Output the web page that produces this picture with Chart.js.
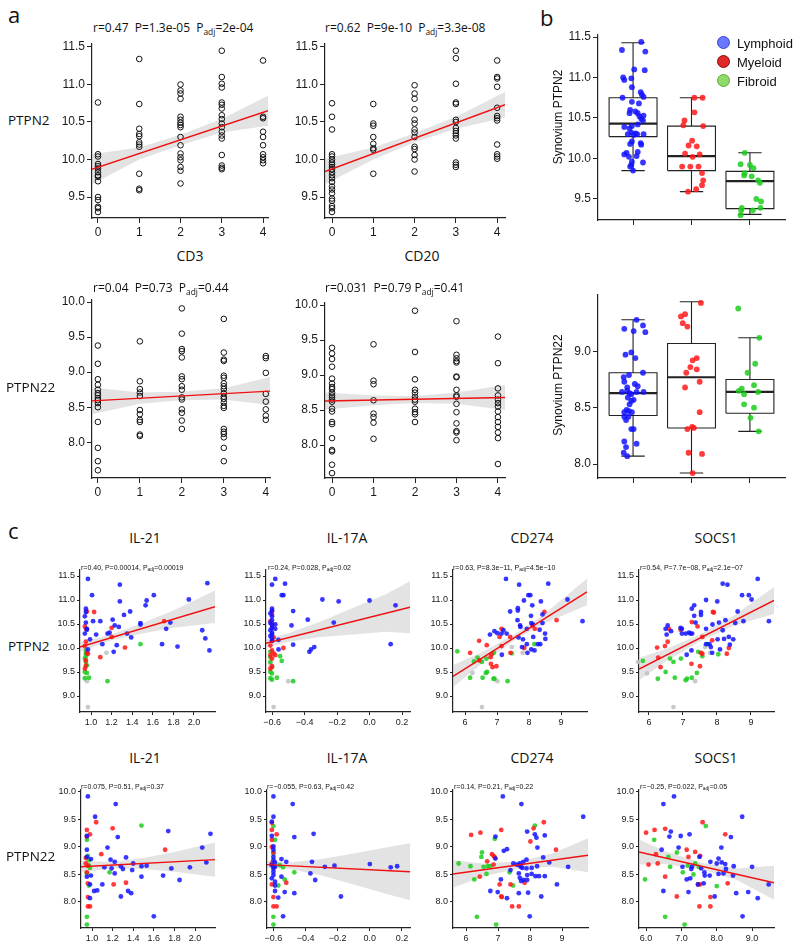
<!DOCTYPE html>
<html>
<head>
<meta charset="utf-8">
<script src="https://cdn.jsdelivr.net/npm/chart.js@4.4.0/dist/chart.umd.min.js"></script>
<style>
  body { margin: 0; background: #fff; }
  #figure { position: relative; width: 800px; height: 948px; overflow: hidden; color: #111; }
  .t { position: absolute; white-space: nowrap; line-height: 1; }
  .t sub { font-size: 0.7em; vertical-align: -0.35em; line-height: 0; }
  .dot { position: absolute; width: 13px; height: 13px; border-radius: 50%; box-sizing: border-box; border: 1.5px solid; }
</style>
</head>
<body>
<div id="figure"></div>
<script>
const FONT = '"Liberation Sans", Arial, sans-serif';
const TITLE_FONT = '"Open Sans", "Liberation Sans", sans-serif';

// panel a: PTPN2 / PTPN22 values at each CD3 / CD20 score (0..4)
const ptpn2ByCd3 = [
  [10.76, 10.07, 10.04, 9.94, 9.91, 9.88, 9.83, 9.79, 9.77, 9.71, 9.50, 9.46, 9.37, 9.35, 9.30],
  [11.34, 10.74, 10.41, 10.34, 10.31, 10.23, 10.20, 10.17, 9.81, 9.61, 9.59],
  [11.0, 10.92, 10.88, 10.81, 10.57, 10.53, 10.49, 10.46, 10.43, 10.30, 10.19, 10.08, 10.03, 9.99, 9.90, 9.85, 9.68],
  [11.45, 11.10, 11.01, 10.96, 10.76, 10.73, 10.68, 10.59, 10.54, 10.48, 10.43, 10.37, 10.32, 10.28, 10.06, 9.92, 9.89, 9.87],
  [11.32, 10.57, 10.55, 10.37, 10.30, 10.19, 10.07, 10.03, 9.99, 9.95]
];
const ptpn2ByCd20 = [
  [10.75, 10.57, 10.40, 10.07, 10.04, 10.0, 9.96, 9.93, 9.90, 9.87, 9.83, 9.79, 9.75, 9.70, 9.64, 9.60, 9.55, 9.48, 9.45, 9.38, 9.35, 9.30],
  [10.74, 10.48, 10.45, 10.30, 10.21, 10.15, 10.13, 9.81],
  [10.99, 10.88, 10.81, 10.67, 10.53, 10.48, 10.40, 10.36, 10.30, 10.17, 10.14, 10.06, 10.0, 9.84],
  [11.45, 11.35, 11.01, 10.76, 10.74, 10.53, 10.50, 10.42, 10.38, 10.35, 10.32, 10.28, 9.96, 9.93, 9.90],
  [11.32, 11.10, 11.08, 10.97, 10.69, 10.58, 10.55, 10.52, 10.20, 10.07, 10.04, 10.01]
];
const ptpn22ByCd3 = [
  [9.38, 9.12, 8.90, 8.82, 8.75, 8.70, 8.67, 8.63, 8.60, 8.56, 8.50, 8.29, 7.92, 7.73, 7.60],
  [9.44, 8.87, 8.76, 8.71, 8.66, 8.46, 8.40, 8.32, 8.29, 8.11, 8.09],
  [9.91, 9.55, 9.33, 9.30, 9.21, 8.94, 8.90, 8.80, 8.75, 8.64, 8.61, 8.47, 8.42, 8.31, 8.19],
  [9.76, 9.28, 9.18, 9.16, 8.95, 8.92, 8.84, 8.80, 8.76, 8.70, 8.65, 8.62, 8.57, 8.52, 8.49, 8.19, 8.15, 8.12, 8.07, 7.92, 7.73],
  [9.23, 9.20, 8.99, 8.69, 8.58, 8.47, 8.38, 8.32]
];
const ptpn22ByCd20 = [
  [9.39, 9.31, 9.23, 9.12, 8.95, 8.88, 8.83, 8.80, 8.75, 8.71, 8.68, 8.65, 8.62, 8.52, 8.48, 8.33, 8.30, 8.10, 7.93, 7.91, 7.72, 7.60],
  [9.44, 8.92, 8.87, 8.64, 8.45, 8.40, 8.32, 8.09],
  [9.92, 9.33, 8.94, 8.79, 8.75, 8.69, 8.65, 8.62, 8.52, 8.47, 8.44, 8.33],
  [9.77, 9.29, 9.24, 9.20, 9.18, 8.98, 8.97, 8.79, 8.71, 8.69, 8.59, 8.47, 8.31, 8.20, 8.18, 8.07],
  [9.55, 9.17, 8.81, 8.71, 8.65, 8.60, 8.55, 8.48, 8.40, 8.33, 8.26, 8.18, 8.10, 7.73]
];

// fitted line ends and confidence band rows [x, low, high]
const cd3Ptpn2Line = [[-0.15, 9.87], [4.12, 10.65]];
const cd3Ptpn2Band = [[-0.15, 9.67, 10.07], [1, 10.0, 10.16], [2, 10.19, 10.33], [3, 10.36, 10.54], [4.12, 10.45, 10.85]];
const cd20Ptpn2Line = [[-0.17, 9.84], [4.19, 10.73]];
const cd20Ptpn2Band = [[-0.17, 9.67, 10.01], [1, 10.0, 10.16], [2, 10.23, 10.35], [3, 10.41, 10.57], [4.19, 10.56, 10.90]];
const cd3Ptpn22Line = [[-0.14, 8.59], [4.1, 8.73]];
const cd3Ptpn22Band = [[-0.14, 8.40, 8.78], [1, 8.55, 8.71], [2, 8.60, 8.72], [3, 8.61, 8.77], [4.1, 8.53, 8.93]];
const cd20Ptpn22Line = [[-0.17, 8.63], [4.17, 8.68]];
const cd20Ptpn22Band = [[-0.17, 8.51, 8.75], [1, 8.57, 8.71], [2, 8.60, 8.70], [3, 8.59, 8.75], [4.17, 8.50, 8.86]];

// panel b: box stats per group [low, q1, median, q3, high] and jittered points
const groups = ['Lymphoid', 'Myeloid', 'Fibroid'];
const ptpn2Stats = [[9.85, 10.27, 10.43, 10.75, 11.43], [9.59, 9.85, 10.03, 10.40, 10.75], [9.31, 9.38, 9.72, 9.84, 10.07]];
const ptpn22Stats = [[8.07, 8.43, 8.63, 8.81, 9.28], [7.92, 8.32, 8.77, 9.07, 9.44], [8.29, 8.45, 8.64, 8.75, 9.12]];
const ptpn2Lymphoid = [[1.14,11.44],[0.81,11.34],[1.21,11.32],[1.02,11.10],[1.20,11.09],[0.83,11.0],[0.85,10.97],[0.97,10.99],[0.98,10.88],[1.13,10.82],[1.15,10.79],[1.18,10.76],[0.82,10.75],[0.98,10.70],[1.10,10.68],[0.95,10.60],[1.04,10.58],[1.18,10.53],[0.94,10.56],[1.08,10.56],[1.11,10.52],[1.14,10.49],[1.17,10.47],[0.85,10.39],[0.98,10.40],[1.08,10.42],[0.94,10.37],[1.04,10.31],[0.97,10.32],[0.91,10.30],[1.01,10.29],[1.07,10.30],[1.18,10.30],[0.98,10.21],[1.13,10.19],[0.95,10.18],[1.14,10.17],[0.89,10.07],[0.85,10.05],[1.08,10.08],[0.93,10.02],[1.06,10.03],[0.98,9.96],[1.17,9.95],[0.97,9.92],[0.95,9.90],[1.0,9.85]];
const ptpn2Myeloid = [[2.05,10.75],[2.19,10.75],[1.88,10.47],[1.86,10.41],[2.05,10.57],[2.20,10.40],[2.01,10.22],[1.95,10.16],[2.09,10.15],[1.89,10.06],[2.02,10.02],[2.14,10.05],[1.84,9.90],[1.98,9.90],[2.12,9.90],[2.18,9.82],[2.20,9.73],[2.18,9.67],[2.08,9.62],[1.94,9.59]];
const ptpn2Fibroid = [[2.91,10.07],[2.84,9.93],[3.0,9.92],[3.06,9.88],[2.91,9.82],[3.03,9.78],[2.90,9.79],[3.14,9.73],[3.17,9.70],[3.11,9.50],[3.19,9.47],[2.86,9.39],[2.85,9.36],[3.05,9.36],[3.18,9.39],[2.84,9.30]];
const ptpn22Lymphoid = [[1.06,9.28],[0.85,9.20],[1.01,9.18],[1.17,9.23],[1.21,9.17],[0.87,8.97],[0.97,8.99],[1.04,8.94],[1.17,8.81],[0.84,8.77],[0.93,8.79],[0.85,8.73],[1.03,8.71],[1.08,8.69],[0.90,8.68],[0.81,8.64],[0.97,8.62],[1.06,8.64],[1.18,8.64],[0.91,8.59],[1.01,8.57],[0.94,8.53],[0.89,8.48],[0.98,8.46],[0.85,8.46],[0.93,8.47],[0.85,8.42],[0.88,8.39],[0.97,8.31],[1.01,8.31],[0.85,8.20],[0.88,8.15],[1.06,8.18],[0.84,8.10],[0.90,8.07],[0.92,8.42],[0.94,8.63],[0.97,8.56],[0.90,8.65]];
const ptpn22Myeloid = [[2.16,9.43],[1.89,9.33],[1.82,9.31],[1.85,9.25],[1.93,9.22],[2.09,8.94],[2.02,8.92],[1.98,8.86],[2.09,8.84],[1.91,8.81],[2.14,8.73],[1.89,8.68],[2.14,8.46],[1.93,8.31],[2.01,8.33],[2.04,8.32],[1.95,8.10],[2.18,8.09],[2.02,7.92]];
const ptpn22Fibroid = [[2.80,9.38],[3.16,9.12],[2.96,8.81],[3.09,8.89],[2.86,8.67],[2.81,8.65],[2.90,8.62],[3.07,8.70],[3.14,8.64],[2.90,8.53],[3.07,8.50],[3.01,8.41],[3.15,8.29]];

// panel c, row PTPN2
const il21Ptpn2Blue = [[0.97,11.44],[1.28,11.32],[1.01,11.10],[1.61,11.10],[1.54,10.99],[1.28,10.97],[1.53,10.89],[1.95,11.01],[0.95,10.82],[0.95,10.75],[1.38,10.76],[1.32,10.69],[0.94,10.66],[0.95,10.53],[1.02,10.56],[1.09,10.56],[1.21,10.59],[1.23,10.47],[1.27,10.44],[1.48,10.52],[1.48,10.49],[1.77,10.53],[1.73,10.40],[0.96,10.38],[0.94,10.30],[1.05,10.28],[1.16,10.30],[1.18,10.32],[1.35,10.30],[1.39,10.22],[0.99,10.18],[1.11,10.08],[1.25,10.06],[1.69,10.08],[1.84,10.03],[0.97,9.97],[1.22,9.92],[0.96,10.40],[2.13,11.35],[2.08,10.37],[2.11,10.20],[2.15,9.95]];
const il21Ptpn2Red = [[0.96,10.76],[1.03,10.75],[0.94,10.45],[0.95,10.40],[1.20,10.42],[1.20,10.23],[1.71,10.56],[0.95,10.13],[0.94,10.04],[0.96,9.90],[0.97,9.88],[1.33,10.01],[1.09,9.81],[0.95,9.74],[0.95,9.63],[0.94,9.57]];
const il21Ptpn2Green = [[0.95,9.95],[0.95,9.88],[0.95,9.83],[0.94,9.78],[0.95,9.71],[0.96,9.64],[0.94,9.50],[0.96,9.48],[0.94,9.37],[0.98,9.38],[1.48,10.08],[1.16,9.31]];
const il21Ptpn2Grey = [[1.15,9.90],[0.96,9.31],[0.97,8.77]];
const il21Ptpn2Line = [[0.893, 10.02], [2.204, 10.86]];
const il21Ptpn2Band = [[0.893, 9.92, 10.12], [1.2, 10.16, 10.28], [1.5, 10.30, 10.52], [1.8, 10.42, 10.78], [2.204, 10.52, 11.20]];

const il17aPtpn2Blue = [[-0.60,11.32],[-0.58,11.44],[-0.52,11.34],[-0.54,11.10],[-0.53,11.10],[-0.60,10.82],[-0.60,10.78],[-0.61,10.72],[-0.60,10.66],[-0.60,10.58],[-0.61,10.52],[-0.60,10.48],[-0.60,10.42],[-0.61,10.37],[-0.60,10.32],[-0.60,10.28],[-0.61,10.25],[-0.60,10.20],[-0.60,10.15],[-0.47,10.77],[-0.38,10.59],[-0.48,10.47],[-0.29,11.01],[-0.19,10.97],[0.0,10.99],[-0.22,10.53],[-0.58,10.49],[-0.58,10.40],[-0.56,10.17],[-0.47,10.07],[-0.34,10.02],[-0.36,9.97],[-0.37,9.92],[-0.56,9.97],[0.13,10.08],[0.16,10.89]];
const il17aPtpn2Red = [[-0.60,10.76],[-0.60,10.70],[-0.61,10.56],[-0.60,10.50],[-0.60,10.42],[-0.59,10.22],[-0.60,10.15],[-0.61,10.05],[-0.60,9.95],[-0.61,9.85],[-0.60,9.78],[-0.60,9.62],[-0.61,9.57],[-0.59,9.89],[-0.53,10.0],[-0.58,9.85]];
const il17aPtpn2Green = [[-0.61,9.92],[-0.61,9.81],[-0.61,9.71],[-0.60,9.60],[-0.61,9.50],[-0.60,9.47],[-0.61,9.37],[-0.60,9.34],[-0.55,9.83],[-0.54,9.73],[-0.57,9.38],[-0.47,9.31]];
const il17aPtpn2Grey = [[-0.50,9.31],[-0.59,8.77],[-0.61,9.67]];
const il17aPtpn2Line = [[-0.637, 10.10], [0.249, 10.85]];
const il17aPtpn2Band = [[-0.637, 10.01, 10.19], [-0.5, 10.13, 10.31], [-0.3, 10.23, 10.55], [-0.1, 10.28, 10.84], [0.1, 10.34, 11.12], [0.249, 10.31, 11.39]];

const cd274Ptpn2Blue = [[7.28,11.44],[7.69,11.32],[8.60,11.34],[7.98,11.10],[8.04,11.10],[9.20,11.01],[7.84,10.99],[8.37,10.97],[8.10,10.89],[7.65,10.83],[7.65,10.78],[7.41,10.76],[8.06,10.67],[8.42,10.70],[7.64,10.58],[9.67,10.56],[7.72,10.47],[7.73,10.44],[8.07,10.52],[8.12,10.49],[8.42,10.52],[6.92,10.35],[7.01,10.31],[7.20,10.37],[7.14,10.30],[7.30,10.30],[6.78,10.28],[7.93,10.40],[7.67,10.22],[7.81,10.18],[8.50,10.30],[8.33,10.38],[8.51,10.19],[7.93,10.08],[7.78,10.02],[8.35,10.08],[8.28,10.08],[8.07,9.97],[7.95,9.90],[8.17,9.95],[7.15,9.86],[8.13,10.23]];
const cd274Ptpn2Red = [[8.48,10.75],[8.86,10.58],[7.14,10.40],[6.44,10.15],[6.68,10.06],[6.16,9.90],[6.45,9.74],[6.83,9.87],[6.80,9.81],[6.81,9.67],[6.86,9.60],[6.98,9.62],[7.08,10.23],[7.14,10.04],[7.41,10.23],[7.42,9.90],[7.85,10.0],[8.11,10.47],[8.18,10.40]];
const cd274Ptpn2Green = [[5.76,9.93],[6.28,9.72],[6.39,9.80],[6.53,9.71],[6.67,9.78],[6.90,9.90],[6.16,9.38],[6.55,9.38],[6.65,9.48],[6.69,9.50],[6.89,9.36],[6.92,9.36],[7.33,9.31],[7.46,9.89],[8.17,10.08]];
const cd274Ptpn2Grey = [[6.23,9.48],[7.01,9.31],[7.46,10.02],[7.80,9.90],[6.53,8.77]];
const cd274Ptpn2Line = [[5.625, 9.41], [9.81, 11.17]];
const cd274Ptpn2Band = [[5.625, 9.18, 9.64], [6.5, 9.66, 9.90], [7.6, 10.18, 10.30], [8.5, 10.52, 10.72], [9.81, 10.89, 11.45]];

const socs1Ptpn2Blue = [[9.20,11.44],[8.17,11.34],[8.31,11.32],[8.74,11.10],[8.94,11.10],[9.02,11.01],[7.68,11.0],[8.01,10.97],[7.33,10.89],[7.26,10.82],[7.53,10.75],[7.53,10.69],[7.33,10.67],[8.61,10.76],[8.78,10.56],[9.53,10.56],[7.37,10.53],[8.06,10.53],[8.25,10.58],[7.87,10.49],[8.54,10.52],[6.55,10.47],[6.49,10.40],[6.65,10.35],[6.52,10.28],[6.93,10.42],[6.97,10.40],[6.97,10.30],[7.08,10.30],[7.18,10.32],[7.22,10.30],[7.27,10.30],[7.68,10.40],[8.17,10.37],[7.68,10.08],[7.78,10.08],[7.82,10.02],[8.02,10.18],[8.21,10.19],[8.48,10.18],[8.38,10.07],[8.09,9.97],[7.86,9.90],[7.25,9.95],[7.11,9.86],[8.35,10.23]];
const socs1Ptpn2Red = [[7.88,10.75],[7.91,10.74],[7.26,10.54],[7.43,10.45],[6.59,10.40],[6.93,10.38],[6.24,10.01],[6.47,10.04],[6.55,10.13],[6.27,9.80],[6.34,9.60],[7.57,10.23],[7.86,10.16],[7.25,9.67],[7.50,9.62],[7.53,9.90],[7.57,9.88],[8.35,10.0],[8.29,9.88]];
const socs1Ptpn2Green = [[5.82,9.73],[6.62,9.78],[6.72,9.71],[6.94,9.78],[6.49,9.50],[6.26,9.36],[6.76,9.38],[7.08,9.33],[7.12,9.36],[7.26,9.38],[7.41,9.48],[7.45,9.92],[7.57,9.83],[7.72,10.08],[8.04,9.87]];
const socs1Ptpn2Grey = [[5.68,9.71],[5.94,9.47],[7.36,9.31],[7.80,9.90],[7.65,10.02],[6.72,8.77]];
const socs1Ptpn2Line = [[5.706, 9.56], [9.68, 10.99]];
const socs1Ptpn2Band = [[5.706, 9.33, 9.79], [6.5, 9.72, 9.98], [7.5, 10.14, 10.28], [8.5, 10.47, 10.67], [9.68, 10.71, 11.27]];

// panel c, row PTPN22
const il21Ptpn22Blue = [[0.96,9.92],[1.23,9.78],[1.03,9.55],[1.74,9.29],[0.95,9.20],[1.25,9.18],[1.15,8.99],[2.07,8.99],[2.15,9.24],[0.95,8.95],[0.99,8.78],[1.18,8.77],[1.22,8.73],[1.33,8.81],[1.40,8.70],[1.48,8.65],[1.53,8.66],[2.11,8.72],[1.12,8.63],[1.19,8.61],[1.28,8.65],[1.30,8.60],[1.77,8.61],[1.95,8.63],[1.39,8.58],[1.22,8.52],[1.48,8.46],[1.69,8.48],[1.85,8.40],[0.95,8.46],[0.99,8.48],[0.98,8.32],[1.10,8.32],[1.02,8.20],[1.05,8.21],[1.35,8.20],[1.38,8.16],[1.28,8.10],[0.98,8.07],[1.60,7.74],[0.95,8.82]];
const il21Ptpn22Red = [[0.95,9.31],[1.04,9.45],[0.98,9.23],[1.20,9.34],[1.71,8.95],[1.09,8.87],[0.94,8.80],[0.94,8.70],[0.96,8.66],[0.95,8.54],[0.96,8.34],[1.21,8.32],[1.33,8.35],[0.96,8.09],[0.96,7.92],[0.98,7.92],[0.95,9.19]];
const il21Ptpn22Green = [[0.95,9.13],[0.96,8.84],[0.97,8.76],[0.97,8.66],[0.98,8.62],[0.95,8.52],[1.17,8.54],[1.48,9.39],[0.97,8.30],[0.95,7.73],[0.95,7.59]];
const il21Ptpn22Line = [[0.893, 8.64], [2.194, 8.77]];
const il21Ptpn22Band = [[0.893, 8.54, 8.74], [1.2, 8.61, 8.73], [1.5, 8.60, 8.80], [1.8, 8.55, 8.91], [2.194, 8.46, 9.08]];

const il17aPtpn22Blue = [[-0.60,9.92],[-0.60,9.55],[-0.48,9.78],[-0.47,9.18],[-0.35,9.24],[-0.61,9.46],[-0.61,9.20],[-0.60,9.01],[-0.60,8.95],[-0.60,8.82],[-0.60,8.76],[-0.59,8.72],[-0.55,8.78],[-0.52,8.73],[-0.61,8.67],[-0.60,8.61],[-0.60,8.55],[-0.60,8.49],[-0.61,8.43],[-0.59,8.37],[-0.59,8.30],[-0.59,8.20],[-0.55,8.46],[-0.57,8.08],[-0.53,8.18],[-0.54,7.74],[-0.47,8.16],[-0.37,8.52],[-0.36,8.73],[-0.34,8.40],[-0.28,8.64],[-0.22,8.66],[-0.18,8.10],[0.0,8.69],[0.13,8.63],[0.17,8.65],[-0.59,8.64]];
const il17aPtpn22Red = [[-0.61,9.44],[-0.61,9.31],[-0.58,9.23],[-0.61,9.13],[-0.61,9.0],[-0.60,8.90],[-0.61,8.70],[-0.60,8.64],[-0.61,8.32],[-0.60,8.09],[-0.60,7.92],[-0.58,7.92],[-0.52,8.35]];
const il17aPtpn22Green = [[-0.60,9.38],[-0.59,9.13],[-0.60,8.88],[-0.56,8.67],[-0.54,8.63],[-0.47,8.54],[-0.53,8.41],[-0.60,7.73],[-0.60,7.59],[-0.57,8.30]];
const il17aPtpn22Line = [[-0.64, 8.68], [0.25, 8.55]];
const il17aPtpn22Band = [[-0.64, 8.62, 8.74], [-0.5, 8.60, 8.72], [-0.3, 8.48, 8.78], [-0.1, 8.32, 8.88], [0.1, 8.15, 8.99], [0.25, 8.03, 9.07]];

const cd274Ptpn22Blue = [[7.15,9.92],[7.73,9.78],[9.66,9.55],[6.92,9.19],[7.91,9.28],[8.15,9.23],[8.46,9.21],[8.20,9.17],[7.28,8.96],[7.18,8.93],[8.23,8.99],[8.41,8.81],[8.60,8.72],[6.92,8.79],[7.89,8.77],[7.79,8.73],[7.68,8.70],[7.48,8.70],[7.58,8.68],[7.65,8.67],[7.71,8.64],[7.89,8.61],[7.76,8.62],[8.05,8.62],[8.22,8.65],[9.19,8.64],[7.39,8.58],[7.65,8.52],[7.91,8.49],[8.17,8.47],[8.28,8.47],[7.91,8.40],[7.68,8.44],[7.72,8.38],[7.09,8.41],[7.80,8.40],[8.84,8.32],[6.76,8.20],[6.99,8.18],[7.65,8.16],[7.94,8.17],[7.28,8.07],[8.35,8.10],[7.99,7.74],[8.46,8.47],[8.05,8.51]];
const cd274Ptpn22Red = [[6.16,9.22],[6.45,9.26],[7.10,9.31],[8.11,9.34],[8.43,9.45],[8.01,9.10],[8.81,8.95],[6.81,8.87],[6.86,8.84],[6.90,8.81],[6.66,8.74],[6.86,8.68],[6.43,8.46],[7.05,8.32],[7.10,8.10],[7.12,8.09],[7.44,7.92],[7.65,7.92],[7.39,8.32],[7.83,8.35]];
const cd274Ptpn22Green = [[5.77,8.70],[6.14,8.65],[6.48,8.82],[6.50,8.90],[6.55,8.64],[6.68,8.65],[6.76,8.65],[6.26,8.41],[6.64,8.51],[6.90,9.15],[8.15,9.39],[7.36,8.54],[7.47,8.30],[6.34,7.73],[6.94,7.59]];
const cd274Ptpn22Line = [[5.594, 8.51], [9.81, 8.85]];
const cd274Ptpn22Band = [[5.594, 8.26, 8.76], [6.5, 8.46, 8.70], [7.7, 8.62, 8.74], [8.7, 8.64, 8.88], [9.81, 8.54, 9.16]];

const socs1Ptpn22Blue = [[6.79,9.92],[6.49,9.78],[8.72,9.55],[6.66,9.19],[6.70,9.28],[6.98,9.20],[7.23,9.23],[8.13,8.99],[8.40,9.18],[6.44,8.95],[6.92,8.99],[7.51,8.82],[7.82,8.73],[8.0,8.70],[8.05,8.79],[8.14,8.72],[8.24,8.69],[8.48,8.65],[9.0,8.64],[7.56,8.61],[7.30,8.64],[7.03,8.64],[7.28,8.60],[7.65,8.54],[7.80,8.48],[8.05,8.51],[8.19,8.52],[8.26,8.60],[8.46,8.48],[7.25,8.43],[7.15,8.41],[7.63,8.34],[7.47,8.32],[9.47,8.32],[6.49,8.20],[7.20,8.18],[7.94,8.10],[8.55,8.16],[8.89,8.18],[9.16,8.07],[8.73,7.74],[7.66,8.48]];
const socs1Ptpn22Red = [[6.0,9.26],[6.24,9.31],[6.54,9.33],[7.60,9.45],[8.24,9.23],[6.28,8.87],[7.15,8.95],[7.39,8.91],[7.53,8.84],[7.20,8.82],[6.07,8.68],[6.33,8.70],[6.54,8.46],[7.47,8.32],[7.53,8.32],[8.31,8.34],[6.87,8.10],[7.51,7.92],[7.82,7.92],[7.82,8.09]];
const socs1Ptpn22Green = [[5.97,8.41],[6.23,9.13],[6.63,8.82],[6.87,8.90],[6.68,8.64],[7.04,8.54],[7.18,8.66],[7.39,8.70],[7.34,8.50],[7.69,9.38],[8.0,8.29],[6.54,7.73],[7.09,7.59],[7.49,8.64]];
const socs1Ptpn22Line = [[5.80, 8.91], [9.62, 8.35]];
const socs1Ptpn22Band = [[5.80, 8.68, 9.14], [6.5, 8.69, 8.93], [7.6, 8.59, 8.71], [8.6, 8.39, 8.61], [9.62, 8.04, 8.66]];

// tick values
const scoreTicks = [0, 1, 2, 3, 4];
const ptpn2Ticks = [9.5, 10.0, 10.5, 11.0, 11.5];
const ptpn22Ticks = [8.0, 8.5, 9.0, 9.5, 10.0];
const boxPtpn22Ticks = [8.0, 8.5, 9.0];
const groupTicks = [1, 2, 3];
const cPtpn2Ticks = [9.0, 9.5, 10.0, 10.5, 11.0, 11.5];
const il21Ticks = [1.0, 1.2, 1.4, 1.6, 1.8, 2.0];
const il17aTicks = [-0.6, -0.4, -0.2, 0.0, 0.2];
const cd274Ticks = [6, 7, 8, 9];
const socs1Ticks = [6, 7, 8, 9];

const BLUE = 'rgba(20, 20, 255, 0.85)';
const RED = 'rgba(255, 25, 25, 0.85)';
const GREEN = 'rgba(30, 205, 30, 0.85)';
const GREY = 'rgba(195, 195, 195, 0.9)';
const BAND = 'rgba(200, 200, 200, 0.5)';
const FIT = '#f01010';

const figure = document.getElementById('figure');

const addText = (html, x, y, size, { align = 'left', font = FONT, rotate = 0 } = {}) => {
  const el = document.createElement('div');
  el.className = 't';
  el.innerHTML = html;
  el.style.left = `${x}px`;
  el.style.top = `${y}px`;
  el.style.fontSize = `${size}px`;
  el.style.fontFamily = font;
  const dx = align === 'center' ? '-50%' : '0';
  el.style.transform = `translate(${dx}, -50%)${rotate ? ` rotate(${rotate}deg)` : ''}`;
  figure.appendChild(el);
};

const fmt = (v, digits) => digits === null ? '' : v.toFixed(digits).replace('-', '\u2212');

const axis = (spec, size, fit) => ({
  type: 'linear',
  min: spec.min,
  max: spec.max,
  afterBuildTicks: scale => { scale.ticks = spec.ticks.map(value => ({ value })); },
  afterFit: fit,
  ticks: {
    autoSkip: false, maxRotation: 0, padding: size.pad, color: '#1a1a1a',
    font: { family: FONT, size: size.font },
    callback: v => fmt(v, spec.digits)
  },
  grid: { drawOnChartArea: false, tickLength: size.tick, color: '#222', lineWidth: 1 },
  border: { color: '#222', width: 1.2 }
});

const makeChart = (box, x, y, datasets, size) => {
  const w = size.yw + box.r - box.l + size.pr;
  const h = size.pt + box.b - box.t + size.xh;
  const canvas = document.createElement('canvas');
  canvas.width = w;
  canvas.height = h;
  canvas.style.cssText = `position:absolute;left:${box.l - size.yw}px;top:${box.t - size.pt}px;width:${w}px;height:${h}px`;
  figure.appendChild(canvas);
  return new Chart(canvas, {
    type: 'scatter',
    data: { datasets },
    options: {
      responsive: false,
      animation: false,
      devicePixelRatio: 1,
      layout: { padding: { top: size.pt, right: size.pr, left: 0, bottom: 0 } },
      plugins: { legend: { display: false }, tooltip: { enabled: false } },
      scales: {
        x: axis(x, size, s => { s.height = size.xh; s.paddingLeft = 0; s.paddingRight = 0; }),
        y: axis(y, size, s => { s.width = size.yw; s.paddingTop = 0; s.paddingBottom = 0; })
      }
    }
  });
};

const toXY = pairs => pairs.map(([x, y]) => ({ x, y }));

const fitSets = (line, band) => [
  { type: 'line', data: band.map(([x, lo]) => ({ x, y: lo })), borderColor: 'transparent', borderWidth: 0, pointRadius: 0, fill: false, order: 3 },
  { type: 'line', data: band.map(([x, , hi]) => ({ x, y: hi })), borderColor: 'transparent', borderWidth: 0, pointRadius: 0, fill: '-1', backgroundColor: BAND, order: 3 },
  { type: 'line', data: toXY(line), borderColor: FIT, borderWidth: 1.4, pointRadius: 0, fill: false, order: 0 }
];

const dots = (pairs, color, radius) => ({
  data: toXY(pairs), pointRadius: radius, pointBackgroundColor: color, pointBorderWidth: 0, clip: false, order: 1
});

const openCircles = columns => ({
  data: columns.flatMap((values, x) => values.map(y => ({ x, y }))),
  pointRadius: 2.8, pointBorderWidth: 1, pointBorderColor: '#111', pointBackgroundColor: 'transparent', clip: false, order: 1
});

const seg = (pts, width = 1.1) => ({
  type: 'line', data: toXY(pts), borderColor: '#222', borderWidth: width, pointRadius: 0, fill: false, tension: 0, order: 2
});

const boxSets = (stats, half, cap) => stats.flatMap(([lo, q1, med, q3, hi], i) => {
  const c = groupTicks[i];
  return [
    seg([[c - half, q1], [c + half, q1], [c + half, q3], [c - half, q3], [c - half, q1]]),
    seg([[c - half, med], [c + half, med]], 2.2),
    seg([[c, q3], [c, hi], [c - cap, hi], [c + cap, hi]]),
    seg([[c, q1], [c, lo], [c - cap, lo], [c + cap, lo]])
  ];
});

const sizeA = { yw: 40, xh: 24, pt: 6, pr: 8, font: 12, tick: 5, pad: 2 };
const sizeC = { yw: 30, xh: 18, pt: 6, pr: 8, font: 9, tick: 3, pad: 2 };

// panel a
const yA2 = { min: 9.22, max: 11.54, ticks: ptpn2Ticks, digits: 1 };
const yA22 = { min: 7.49, max: 10.03, ticks: ptpn22Ticks, digits: 1 };
makeChart({ l: 92, r: 268, t: 44, b: 218 }, { min: -0.145, max: 4.12, ticks: scoreTicks, digits: 0 }, yA2,
  [...fitSets(cd3Ptpn2Line, cd3Ptpn2Band), openCircles(ptpn2ByCd3)], sizeA);
makeChart({ l: 325, r: 505, t: 44, b: 218 }, { min: -0.17, max: 4.19, ticks: scoreTicks, digits: 0 }, yA2,
  [...fitSets(cd20Ptpn2Line, cd20Ptpn2Band), openCircles(ptpn2ByCd20)], sizeA);
makeChart({ l: 92, r: 270, t: 300, b: 478 }, { min: -0.14, max: 4.1, ticks: scoreTicks, digits: 0 }, yA22,
  [...fitSets(cd3Ptpn22Line, cd3Ptpn22Band), openCircles(ptpn22ByCd3)], sizeA);
makeChart({ l: 325, r: 505, t: 303, b: 478 }, { min: -0.17, max: 4.17, ticks: scoreTicks, digits: 0 }, { ...yA22, min: 7.53 },
  [...fitSets(cd20Ptpn22Line, cd20Ptpn22Band), openCircles(ptpn22ByCd20)], sizeA);

// panel b
const xB = { min: 0.4, max: 3.6, ticks: groupTicks, digits: null };
makeChart({ l: 598, r: 785, t: 35, b: 220 }, xB, { min: 9.24, max: 11.525, ticks: ptpn2Ticks, digits: 1 },
  [...boxSets(ptpn2Stats, 0.41, 0.2), dots(ptpn2Lymphoid, BLUE, 2.9), dots(ptpn2Myeloid, RED, 2.9), dots(ptpn2Fibroid, GREEN, 2.9)], sizeA);
makeChart({ l: 598, r: 785, t: 295, b: 478 }, xB, { min: 7.876, max: 9.5, ticks: boxPtpn22Ticks, digits: 1 },
  [...boxSets(ptpn22Stats, 0.41, 0.2), dots(ptpn22Lymphoid, BLUE, 2.9), dots(ptpn22Myeloid, RED, 2.9), dots(ptpn22Fibroid, GREEN, 2.9)], sizeA);

// panel c
const yC2 = { min: 8.667, max: 11.625, ticks: cPtpn2Ticks, digits: 1 };
const yC22 = { min: 7.527, max: 10.036, ticks: ptpn22Ticks, digits: 1 };
const cDots = (blue, red, green, grey) => [dots(blue, BLUE, 2.4), dots(red, RED, 2.4), dots(green, GREEN, 2.4), ...(grey ? [dots(grey, GREY, 2.4)] : [])];

makeChart({ l: 80, r: 215, t: 570, b: 712 }, { min: 0.893, max: 2.204, ticks: il21Ticks, digits: 1 }, yC2,
  [...fitSets(il21Ptpn2Line, il21Ptpn2Band), ...cDots(il21Ptpn2Blue, il21Ptpn2Red, il21Ptpn2Green, il21Ptpn2Grey)], sizeC);
makeChart({ l: 266, r: 410, t: 570, b: 712 }, { min: -0.637, max: 0.249, ticks: il17aTicks, digits: 1 }, yC2,
  [...fitSets(il17aPtpn2Line, il17aPtpn2Band), ...cDots(il17aPtpn2Blue, il17aPtpn2Red, il17aPtpn2Green, il17aPtpn2Grey)], sizeC);
makeChart({ l: 453, r: 587, t: 570, b: 712 }, { min: 5.625, max: 9.81, ticks: cd274Ticks, digits: 0 }, yC2,
  [...fitSets(cd274Ptpn2Line, cd274Ptpn2Band), ...cDots(cd274Ptpn2Blue, cd274Ptpn2Red, cd274Ptpn2Green, cd274Ptpn2Grey)], sizeC);
makeChart({ l: 639, r: 774, t: 570, b: 712 }, { min: 5.706, max: 9.68, ticks: socs1Ticks, digits: 0 }, yC2,
  [...fitSets(socs1Ptpn2Line, socs1Ptpn2Band), ...cDots(socs1Ptpn2Blue, socs1Ptpn2Red, socs1Ptpn2Green, socs1Ptpn2Grey)], sizeC);

makeChart({ l: 81, r: 215, t: 790, b: 928 }, { min: 0.893, max: 2.194, ticks: il21Ticks, digits: 1 }, yC22,
  [...fitSets(il21Ptpn22Line, il21Ptpn22Band), ...cDots(il21Ptpn22Blue, il21Ptpn22Red, il21Ptpn22Green)], sizeC);
makeChart({ l: 267, r: 410, t: 790, b: 928 }, { min: -0.64, max: 0.25, ticks: il17aTicks, digits: 1 }, yC22,
  [...fitSets(il17aPtpn22Line, il17aPtpn22Band), ...cDots(il17aPtpn22Blue, il17aPtpn22Red, il17aPtpn22Green)], sizeC);
makeChart({ l: 453, r: 588, t: 790, b: 928 }, { min: 5.594, max: 9.81, ticks: cd274Ticks, digits: 0 }, yC22,
  [...fitSets(cd274Ptpn22Line, cd274Ptpn22Band), ...cDots(cd274Ptpn22Blue, cd274Ptpn22Red, cd274Ptpn22Green)], sizeC);
makeChart({ l: 639, r: 774, t: 790, b: 928 }, { min: 5.80, max: 9.62, ticks: socs1Ticks, digits: 1 }, yC22,
  [...fitSets(socs1Ptpn22Line, socs1Ptpn22Band), ...cDots(socs1Ptpn22Blue, socs1Ptpn22Red, socs1Ptpn22Green)], sizeC);

// text
const padj = 'P<sub>adj</sub>';
addText('a', 8, 14, 22, { font: TITLE_FONT });
addText('b', 540, 17, 22, { font: TITLE_FONT });
addText('c', 8, 530, 22, { font: TITLE_FONT });

addText(`r=0.47&nbsp; P=1.3e-05&nbsp; ${padj}=2e-04`, 93, 28, 12, { font: TITLE_FONT });
addText(`r=0.62&nbsp; P=9e-10&nbsp; ${padj}=3.3e-08`, 325, 28, 12, { font: TITLE_FONT });
addText(`r=0.04&nbsp; P=0.73&nbsp; ${padj}=0.44`, 93, 288, 12, { font: TITLE_FONT });
addText(`r=0.031&nbsp; P=0.79 ${padj}=0.41`, 325, 288, 12, { font: TITLE_FONT });
addText('CD3', 190, 256, 14, { align: 'center', font: TITLE_FONT });
addText('CD20', 422, 256, 14, { align: 'center', font: TITLE_FONT });
addText('PTPN2', 8, 121, 13.5, { font: TITLE_FONT });
addText('PTPN22', 6, 388, 13.5, { font: TITLE_FONT });

addText('Synovium PTPN2', 558, 117, 12, { align: 'center', rotate: -90 });
addText('Synovium PTPN22', 558, 385, 12, { align: 'center', rotate: -90 });
const legendColors = [['#6a78ff', '#3a44d0'], ['#e02a2a', '#8a0c0c'], ['#8fda6a', '#5aae3c']];
groups.forEach((name, i) => {
  const d = document.createElement('div');
  d.className = 'dot';
  d.style.left = '717px';
  d.style.top = `${36 + i * 19}px`;
  d.style.background = legendColors[i][0];
  d.style.borderColor = legendColors[i][1];
  figure.appendChild(d);
  addText(name, 737, 43 + i * 19, 13);
});

const cTitles = ['IL-21', 'IL-17A', 'CD274', 'SOCS1'];
const cCenters = [145, 347, 532, 716];
cTitles.forEach((name, i) => {
  addText(name, cCenters[i], 538, 14, { align: 'center', font: TITLE_FONT });
  addText(name, cCenters[i], 758, 14, { align: 'center', font: TITLE_FONT });
});
addText('PTPN2', 8, 647, 13.5, { font: TITLE_FONT });
addText('PTPN22', 6, 857, 13.5, { font: TITLE_FONT });

const cStats = [
  [`r=0.40, P=0.00014, ${padj}=0.00019`, 81, 567],
  [`r=0.24, P=0.028, ${padj}=0.02`, 268, 567],
  [`r=0.63, P=8.3e\u221211, ${padj}=4.5e\u221210`, 453, 567],
  [`r=0.54, P=7.7e\u221208, ${padj}=2.1e\u221207`, 640, 567],
  [`r=0.075, P=0.51, ${padj}=0.37`, 81, 786],
  [`r=\u22120.055, P=0.63, ${padj}=0.42`, 267, 786],
  [`r=0.14, P=0.21, ${padj}=0.22`, 454, 786],
  [`r=\u22120.25, P=0.022, ${padj}=0.05`, 640, 786]
];
cStats.forEach(([html, x, y]) => addText(html, x, y, 7));
</script>
</body>
</html>
